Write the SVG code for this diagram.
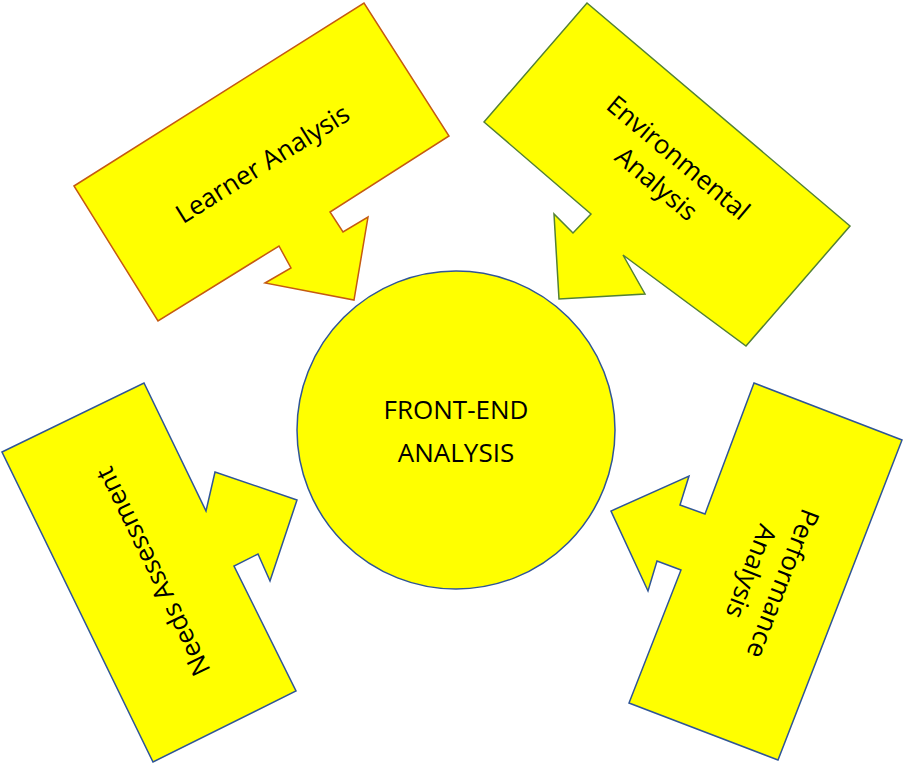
<svg xmlns="http://www.w3.org/2000/svg" width="904" height="764" viewBox="0 0 904 764">
<style>
.s{fill:#FFFF00;stroke-width:1.5}
.t{font-family:"Open Sans",sans-serif;font-size:26px;fill:#000;text-anchor:middle;dominant-baseline:central}
</style>
<rect width="904" height="764" fill="#fff"/>
<g id="connectors"></g>
<g id="learner">
<polygon class="s" stroke="#C55A11" points="74,186 364,3 449,136 330,212 343,232 368,217 354,300 265,283 291,268 279,246 158,321"/>
<text class="t" transform="translate(262,163) rotate(-32)">Learner Analysis</text>
</g>
<g id="environmental">
<polygon class="s" stroke="#538135" points="484,122 587,3 850,226 746,346 623,255 645,294 559,299 554,214 573,233 591,214"/>
<text class="t" transform="translate(668,170) rotate(40)"><tspan x="0" y="-17">Environmental</tspan><tspan x="0" y="17">Analysis</tspan></text>
</g>
<g id="needs">
<polygon class="s" stroke="#2F5597" points="2,452 144,383 206,511 215,472 297,500 270,581 258,554 234,566 296,691 153,762"/>
<text class="t" transform="translate(152,572) rotate(-116)">Needs Assessment</text>
</g>
<g id="performance">
<polygon class="s" stroke="#2F5597" points="754,383 902,440 778,760 629,703 681,570 657,561 648,591 611,511 689,476 680,505 705,514"/>
<text class="t" transform="translate(768,578) rotate(111)"><tspan x="0" y="-17">Performance</tspan><tspan x="0" y="17">Analysis</tspan></text>
</g>
<g id="center">
<circle class="s" stroke="#2F5597" cx="456" cy="430" r="159"/>
<text class="t"><tspan x="456" y="409">FRONT-END</tspan><tspan x="456" y="452">ANALYSIS</tspan></text>
</g>
</svg>
